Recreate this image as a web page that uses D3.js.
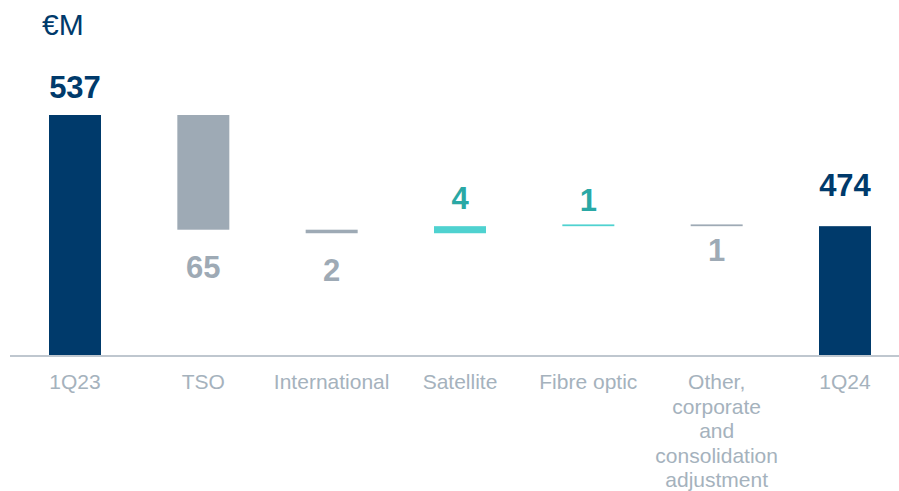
<!DOCTYPE html>
<html>
<head>
<meta charset="utf-8">
<script src="https://cdn.jsdelivr.net/npm/d3@7"></script>
<style>
  html, body { margin: 0; padding: 0; background: #ffffff; }
  svg { display: block; font-family: "Liberation Sans", Arial, sans-serif; }
</style>
</head>
<body>
<svg id="chart" width="899" height="491"></svg>
<script>
// EBITDA bridge, €M
const categories = ["1Q23", "TSO", "International", "Satellite", "Fibre optic",
                    "Other, corporate and consolidation adjustment", "1Q24"];
const kinds  = ["total", "delta", "delta", "delta", "delta", "delta", "total"];
const values = [537, -65, -2, 4, 1, -1, 474];
const valueLabels = ["537", "65", "2", "4", "1", "1", "474"];
const categoryLines = [["1Q23"], ["TSO"], ["International"], ["Satellite"], ["Fibre optic"],
                       ["Other,", "corporate", "and", "consolidation", "adjustment"], ["1Q24"]];
const unitLabel = "€M";

// small vertical nudges for value labels (px)
const labelNudge = [0, 0, 0, 0, 4, -13, -13];

const navy = "#003a6b", greyBar = "#9eaab5", tealBar = "#4fd2d0",
      tealText = "#2aa8a5", axisText = "#a5b2bd", axisLine = "#aab5bf";

const svg = d3.select("#chart");

// running totals for waterfall
let running = 0;
const steps = values.map((v, i) => {
  let start, end;
  if (kinds[i] === "total") { start = 401; end = v; running = v; }
  else { start = running; end = running + v; running = end; }
  return { cat: categories[i], kind: kinds[i], value: v, start, end, label: valueLabels[i], i };
});

const x = d3.scalePoint().domain(categories).range([75, 845]);
const y = d3.scaleLinear().domain([401, 537]).range([355, 115]);
const barW = 52;

const color = d => d.kind === "total" ? navy : (d.value < 0 ? greyBar : tealBar);
const textColor = d => d.kind === "total" ? navy : (d.value < 0 ? greyBar : tealText);

svg.append("g").selectAll("rect").data(steps).join("rect")
  .attr("x", d => x(d.cat) - barW / 2)
  .attr("width", barW)
  .attr("y", d => y(Math.max(d.start, d.end)))
  .attr("height", d => Math.max(1.5, Math.abs(y(d.start) - y(d.end))))
  .attr("fill", color);

// axis baseline
svg.append("line")
  .attr("x1", 10).attr("x2", 899)
  .attr("y1", y(401) + 1).attr("y2", y(401) + 1)
  .attr("stroke", axisLine).attr("stroke-width", 1.5);

// value labels
svg.append("g").selectAll("text").data(steps).join("text")
  .attr("x", d => x(d.cat))
  .attr("y", d => {
    const up = d.kind === "total" || d.value > 0;
    const base = up ? y(Math.max(d.start, d.end)) - 17 : y(Math.min(d.start, d.end)) + 48;
    return base + labelNudge[d.i];
  })
  .attr("text-anchor", "middle")
  .attr("font-size", 31).attr("font-weight", "bold")
  .attr("fill", textColor)
  .text(d => d.label);

// category labels
const cat = svg.append("g").selectAll("text").data(categories).join("text")
  .attr("x", d => x(d))
  .attr("y", 389)
  .attr("text-anchor", "middle")
  .attr("font-size", 21)
  .attr("fill", axisText);
cat.each(function(d, i) {
  d3.select(this).selectAll("tspan").data(categoryLines[i]).join("tspan")
    .attr("x", x(d))
    .attr("dy", (t, j) => j === 0 ? 0 : 24.5)
    .text(t => t);
});

// unit
svg.append("text")
  .attr("x", 42).attr("y", 35)
  .attr("font-size", 30)
  .attr("fill", navy)
  .text(unitLabel);
</script>
</body>
</html>
